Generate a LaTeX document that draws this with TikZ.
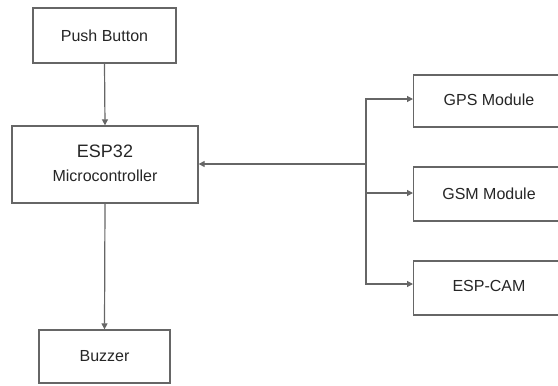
\documentclass[tikz,border=0pt]{standalone}
\usepackage{fontspec}
\setmainfont{Liberation Sans}
\usetikzlibrary{arrows.meta}
\begin{document}
\begin{tikzpicture}[x=1pt,y=-1pt,
  box/.style={draw=black!60,line width=1.3pt,fill=white,inner sep=0pt,text=black!85},
  conn/.style={draw=black!60,line width=1.2pt,-{Triangle[length=6pt,width=6pt]}},
  lbl/.style={font=\fontsize{16}{18}\selectfont,text=black!85}]
\useasboundingbox (0,0) rectangle (558,386);
\clip (0,0) rectangle (558,386);
\node[box,minimum width=143pt,minimum height=55pt,font=\fontsize{16}{18}\selectfont] (pb) at (104.5,35.5) {Push Button};
\node[box,minimum width=186pt,minimum height=77pt] (esp) at (105,164.5) {};
\node[lbl,font=\fontsize{18}{20}\selectfont] (espa) at (105,151) {ESP32};
\node[lbl] (espb) at (105,176) {Microcontroller};
\node[box,minimum width=131pt,minimum height=53pt,font=\fontsize{16}{18}\selectfont] (bz) at (104.5,356.5) {Buzzer};
\node[box,minimum width=160pt,minimum height=52pt,anchor=west] (gps) at (413,101) {};
\node[lbl] (gpst) at (489,100) {GPS Module};
\node[box,minimum width=160pt,minimum height=54pt,anchor=west] (gsm) at (413,194) {};
\node[lbl] (gsmt) at (489,194) {GSM Module};
\node[box,minimum width=160pt,minimum height=54pt,anchor=west] (cam) at (413,288) {};
\node[lbl] (camt) at (489,286) {ESP-CAM};
\coordinate (bus) at (366,164);
\draw[conn] (pb.south) -- (esp.north);
\draw[conn] (esp.south) -- (bz.north);
\draw[conn] (bus) -- (esp.east |- bus);
\draw[conn] (bus) |- (gps.west |- 0,99);
\draw[conn] (bus) |- (gsm.west |- 0,193);
\draw[conn] (bus) |- (cam.west |- 0,284);
\end{tikzpicture}
\end{document}
